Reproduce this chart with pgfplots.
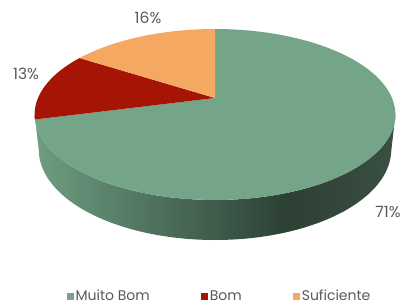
\documentclass[border=0pt]{standalone}
\usepackage{pgfplots}
\pgfplotsset{compat=1.18}
\usepackage{fontspec}
\setmainfont{Poppins}
\definecolor{cGreen}{RGB}{117,165,137}
\definecolor{cRed}{RGB}{165,20,5}
\definecolor{cOrange}{RGB}{244,168,98}
\definecolor{sideL}{RGB}{110,158,130}
\definecolor{sideR}{RGB}{44,64,52}
\definecolor{sideE}{RGB}{58,80,66}
\definecolor{lbl}{RGB}{89,89,89}
\pgfdeclarehorizontalshading{sideshade}{100bp}{color(0bp)=(sideL); color(25bp)=(sideL); color(60bp)=(sideR); color(75bp)=(sideE); color(100bp)=(sideE)}
% data (percent)
\def\pMB{71}\def\pB{13}\def\pS{16}
\pgfmathsetmacro\aA{90}
\pgfmathsetmacro\aB{90-3.6*\pMB}
\pgfmathsetmacro\aC{\aB-3.6*\pB}
\pgfmathsetmacro\aD{\aC-3.6*\pS}
\begin{document}
\begin{tikzpicture}[
 declare function={
  den(\t,\h)=1+0.193*sin(\t)-0.101*\h;
  px(\t,\h)=215+177*cos(\t)/den(\t,\h);
  py(\t,\h)=98-(82.3*sin(\t)+156.6*\h)/den(\t,\h);
  tt(\s)=(\s<=1)*(-168.9+\s*157.8)+(\s>1)*(-11.1-(\s-1)*157.8);
  hh(\s)=(\s>1)*(-0.227);
 }]
\useasboundingbox (0,0) rectangle (407pt,306pt);
\begin{axis}[
  at={(0,0)}, anchor=south west,
  width=407pt, height=306pt, scale only axis,
  xmin=0, xmax=407, ymin=0, ymax=306, y dir=reverse,
  hide axis, clip=false,
  legend style={at={(axis cs:219.5,296)}, anchor=center, draw=none, fill=none,
    legend columns=-1, font=\fontsize{14}{16}\selectfont, text=lbl,
    inner sep=0pt, nodes={inner xsep=1.5pt, inner ysep=0pt},
    /tikz/every even column/.append style={column sep=50pt}},
  legend image code/.code={\fill[#1] (0pt,-3.5pt) rectangle (7pt,3.5pt);},
]
% side of the pie
\addplot[forget plot, draw=none, shading=sideshade, domain=0:2, samples=201]
  ({px(tt(x),hh(x))},{py(tt(x),hh(x))}) -- cycle;
% top faces
\addplot[draw=none, fill=cGreen, domain=\aB:\aA, samples=120]
  ({px(x,0)},{py(x,0)}) -- (axis cs:215,98) -- cycle;
\addlegendentry{Muito Bom}
\addplot[draw=none, fill=cRed, domain=\aC:\aB, samples=40]
  ({px(x,0)},{py(x,0)}) -- (axis cs:215,98) -- cycle;
\addlegendentry{Bom}
\addplot[draw=none, fill=cOrange, domain=\aD:\aC, samples=40]
  ({px(x,0)},{py(x,0)}) -- (axis cs:215,98) -- cycle;
\addlegendentry{Suficiente}
% data labels
\node[text=lbl, font=\fontsize{15.5}{17}\selectfont] at (axis cs:148,18) {\pS\%};
\node[text=lbl, font=\fontsize{15.5}{17}\selectfont] at (axis cs:26,74) {\pB\%};
\node[text=lbl, font=\fontsize{15.5}{17}\selectfont] at (axis cs:388,212) {\pMB\%};
\end{axis}
\end{tikzpicture}
\end{document}
